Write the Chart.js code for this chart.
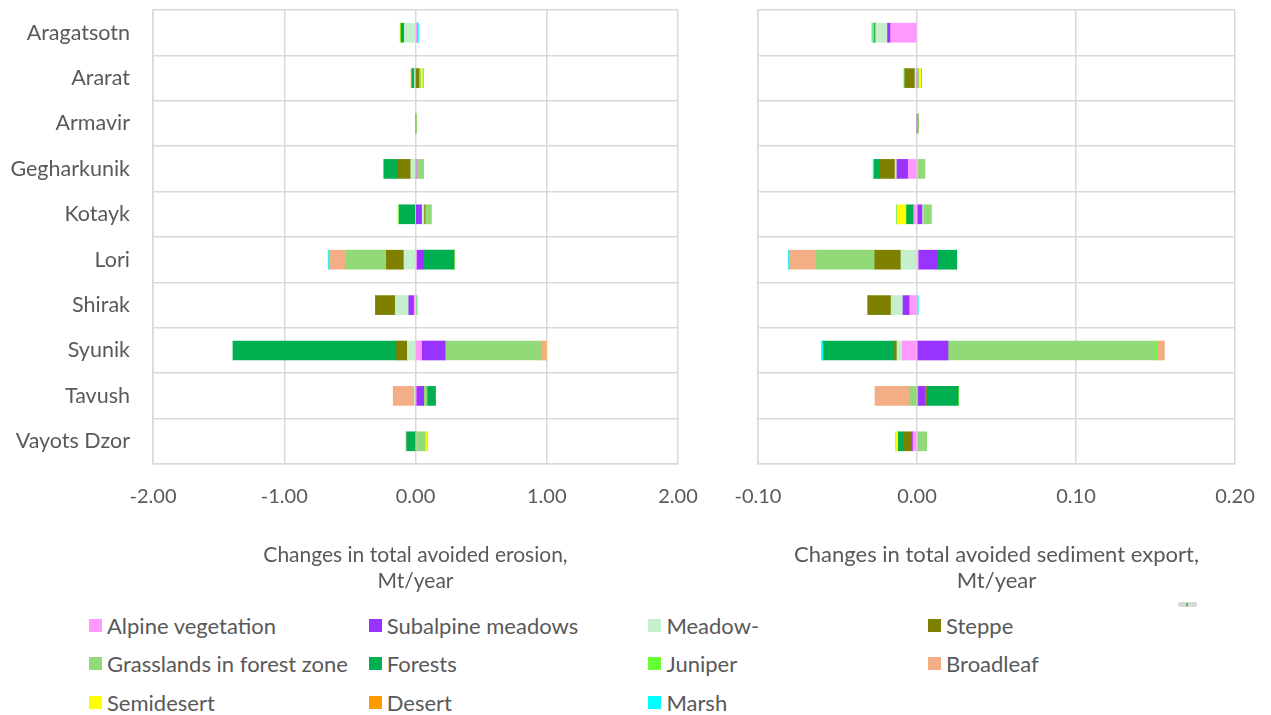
<!DOCTYPE html>
<html><head><meta charset="utf-8">
<script src="https://cdn.jsdelivr.net/npm/chart.js@4/dist/chart.umd.min.js"></script>
<style>
html,body{margin:0;padding:0;background:#fff;}
body{width:1271px;height:715px;position:relative;overflow:hidden;font-family:Lato, sans-serif;}
#a{position:absolute;left:0;top:-30px;}
#b{position:absolute;left:700px;top:-30px;}
.li{position:absolute;height:26px;display:flex;align-items:center;font-size:22px;color:#595959;white-space:nowrap;}
.li .sw{width:13px;height:13px;margin-right:5px;flex:none;}
#blip{position:absolute;left:1178px;top:602px;width:19px;height:5px;background:#d9d9d9;border-radius:2px;}
#blip i{position:absolute;left:8px;top:1px;width:2px;height:3px;background:#3bbf5a;}
</style></head>
<body>
<canvas id="a" width="723" height="630"></canvas>
<canvas id="b" width="580" height="630"></canvas>
<div id="legend"></div>
<div id="blip"><i></i></div>
<script>
const categories = ['Aragatsotn','Ararat','Armavir','Gegharkunik','Kotayk','Lori','Shirak','Syunik','Tavush','Vayots Dzor'];
const seriesNames = ['Alpine vegetation','Subalpine meadows','Meadow-','Steppe','Grasslands in forest zone','Forests','Juniper','Broadleaf','Semidesert','Desert','Marsh'];
const seriesColors = ['#FF99FF','#9933FF','#C6EFCE','#808000','#92D978','#00B050','#66FF33','#F4AE86','#FFFF00','#FF9900','#00FFFF'];

const erosionTicks = [-2, -1, 0, 1, 2];
const sedimentTicks = [-0.1, 0, 0.1, 0.2];

// Changes in total avoided erosion, Mt/year
const erosionAlpine     = [0.015, 0, 0, 0.005, 0, 0.008, -0.010, 0.046, 0.005, 0];
const erosionSubalpine  = [0, 0, 0, 0, 0.046, 0.049, -0.041, 0.180, 0.057, 0];
const erosionMeadow     = [-0.085, -0.008, 0, -0.036, 0.018, -0.088, -0.103, -0.062, -0.008, 0.005];
const erosionSteppe     = [0, 0.025, 0, -0.103, 0.008, -0.134, -0.149, -0.082, 0, 0];
const erosionGrasslands = [0, 0.013, 0.003, 0.055, 0.046, -0.312, 0.008, 0.727, 0.026, 0.067];
const erosionForests    = [-0.026, -0.018, 0, -0.100, -0.124, 0.237, 0, -1.247, 0.064, -0.067];
const erosionJuniper    = [0, 0, 0, 0, -0.005, 0, 0, 0, 0, 0];
const erosionBroadleaf  = [0, 0, 0, 0, 0, -0.124, 0, 0.044, -0.162, -0.005];
const erosionSemidesert = [-0.008, 0.015, 0, 0, 0, 0, 0, 0, 0, 0.018];
const erosionDesert     = [0, -0.008, 0, 0, 0, 0, 0, 0, 0, 0];
const erosionMarsh      = [0.008, 0.008, 0, -0.005, 0, -0.008, 0.004, 0, 0, 0];

// Changes in total avoided sediment export, Mt/year
const sedimentAlpine     = [-0.0166, 0, 0, -0.0055, -0.0021, 0.0008, -0.0046, -0.0092, 0.0004, -0.0025];
const sedimentSubalpine  = [-0.0019, 0, 0, -0.0071, 0.0031, 0.0120, -0.0042, 0.0195, 0.0046, -0.0010];
const sedimentMeadow     = [-0.0075, -0.0013, 0, -0.0012, 0.0008, -0.0101, -0.0075, -0.0034, 0, 0];
const sedimentSteppe     = [-0.0004, -0.0059, 0, -0.0099, 0, -0.0164, -0.0145, -0.0015, 0.0010, -0.0048];
const sedimentGrasslands = [0, 0.0010, 0.0006, 0.0050, 0.0052, -0.0369, 0.0004, 0.1302, -0.0048, 0.0061];
const sedimentForests    = [-0.0006, -0.0004, 0, -0.0031, -0.0044, 0.0122, 0, -0.0447, 0.0199, -0.0034];
const sedimentJuniper    = [0, 0, 0, 0, 0, 0, 0, 0.0015, 0, 0];
const sedimentBroadleaf  = [0, 0, 0, 0, 0, -0.0170, 0, 0.0044, -0.0216, 0];
const sedimentSemidesert = [-0.0006, 0.0013, 0, 0, -0.0061, 0, 0, 0, 0, -0.0015];
const sedimentDesert     = [0, -0.0006, 0, 0, 0, 0, 0, 0, 0, 0];
const sedimentMarsh      = [-0.0008, 0.0006, 0, -0.0008, -0.0004, -0.0006, 0.0004, -0.0013, 0, 0];

const erosionSeries = [erosionAlpine, erosionSubalpine, erosionMeadow, erosionSteppe, erosionGrasslands, erosionForests, erosionJuniper, erosionBroadleaf, erosionSemidesert, erosionDesert, erosionMarsh];
const sedimentSeries = [sedimentAlpine, sedimentSubalpine, sedimentMeadow, sedimentSteppe, sedimentGrasslands, sedimentForests, sedimentJuniper, sedimentBroadleaf, sedimentSemidesert, sedimentDesert, sedimentMarsh];

const FONT = 'Lato';
const TXT = '#595959';
const GRID = '#d9d9d9';

function makeChart(id, series, ticksArr, title, showY, yWidth, padRight, titleSize){
  return new Chart(document.getElementById(id), {
    type: 'bar',
    data: {
      labels: categories,
      datasets: seriesNames.map((n, i) => ({
        label: n, data: series[i], backgroundColor: seriesColors[i],
        borderWidth: 0, barThickness: 19
      }))
    },
    options: {
      indexAxis: 'y', responsive: false, animation: false,
      layout: {padding: {top: 40, right: padRight, left: 0, bottom: 0}},
      plugins: {legend: {display: false}, tooltip: {enabled: false}},
      scales: {
        x: {
          stacked: true, min: ticksArr[0], max: ticksArr[ticksArr.length-1],
          afterBuildTicks: s => { s.ticks = ticksArr.map(v => ({value: v})); },
          ticks: {callback: v => Number(v).toFixed(2), color: TXT, font: {family: FONT, size: 20}, padding: 21, maxRotation: 0},
          grid: {color: GRID, lineWidth: 1.5, drawTicks: false},
          border: {color: GRID, width: 1.5},
          title: {display: true, text: title, color: TXT, font: {family: FONT, size: titleSize, lineHeight: '26px'}, padding: {top: 0, bottom: 6}},
          afterFit: s => { s.height = 136; }
        },
        y: {
          stacked: true,
          ticks: {display: showY, color: TXT, font: {family: FONT, size: 21.5}, padding: 23},
          grid: {color: GRID, lineWidth: 1.5, drawTicks: false, offset: true},
          border: {color: GRID, width: 1.5},
          afterFit: s => { s.width = yWidth; }
        }
      }
    }
  });
}

makeChart('a', erosionSeries, erosionTicks, ['Changes in total avoided erosion,', 'Mt/year'], true, 153, 45, 21);
makeChart('b', sedimentSeries, sedimentTicks, ['Changes in total avoided sediment export,', 'Mt/year'], false, 58, 45, 22);

const legend = document.getElementById('legend');
seriesNames.forEach((n, i) => {
  const col = i % 4, row = Math.floor(i / 4);
  const d = document.createElement('div');
  d.className = 'li';
  d.style.left = (89 + col * 279.7) + 'px';
  d.style.top = (625 - 13 + row * 38.7) + 'px';
  d.innerHTML = '<span class="sw" style="background:' + seriesColors[i] + '"></span><span>' + n + '</span>';
  legend.appendChild(d);
});
</script>
</body></html>
